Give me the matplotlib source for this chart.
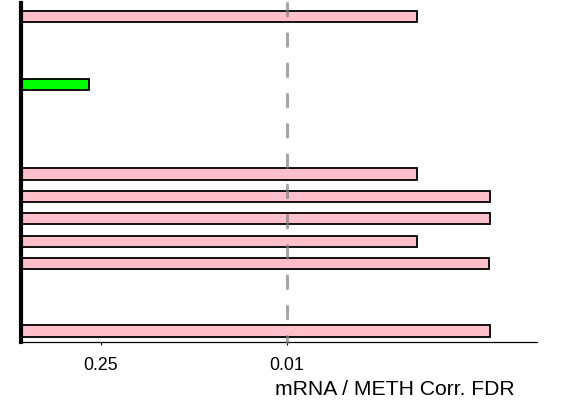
import numpy as np
import matplotlib
matplotlib.use('agg')
import matplotlib.pyplot as plt

plt.rcParams['font.family'] = ['Liberation Sans', 'DejaVu Sans']
plt.rcParams['lines.scale_dashes'] = False

# one row per gene / probe, top to bottom; None = no bar
fdr = [0.00105, None, None, 0.305, None, None, None,
       0.00105, 0.000295, 0.000295, 0.00105, 0.0003, None, None, 0.000295]
colors = ['pink', 'pink', 'pink', 'lime', 'pink', 'pink', 'pink',
          'pink', 'pink', 'pink', 'pink', 'pink', 'pink', 'pink', 'pink']
tick_fdr = [0.25, 0.01]
tick_labels = ['0.25', '0.01']
cutoff = 0.01


def main():
    fig = plt.figure(figsize=(5.63, 4.04), dpi=100)
    ax = fig.add_axes([21 / 563, 1 - 342.3 / 404, (536.7 - 21) / 563, (342.3 - 3.3) / 404])

    rows = np.arange(len(fdr))
    score = np.array([0 if f is None else -np.log10(f) for f in fdr])
    keep = score > 0
    ax.barh(rows[keep], score[keep], height=0.5,
            color=[c for c, k in zip(colors, keep) if k],
            edgecolor='black', linewidth=1.3, zorder=2)

    # significance cutoff, dashes start at the top
    ax.plot([-np.log10(cutoff)] * 2, [1, 0], transform=ax.get_xaxis_transform(),
            color='gray', alpha=0.7, lw=2.2, dashes=(9, 12.8),
            dash_capstyle='round', zorder=3, clip_on=False)

    ax.set_xlim(0, score.max() * 1.1)
    ax.set_ylim(14.5, -0.6)

    ax.set_xticks(-np.log10(tick_fdr))
    ax.set_xticklabels(tick_labels, fontsize=12.8)
    ax.tick_params(axis='x', length=2.5, width=0.8, pad=8)
    ax.set_yticks([])

    for s in ['top', 'right']:
        ax.spines[s].set_visible(False)
    ax.spines['left'].set_linewidth(3)
    ax.spines['left'].set_capstyle('projecting')
    ax.spines['bottom'].set_linewidth(0.9)

    ax.set_xlabel('mRNA / METH Corr. FDR', fontsize=15.2, ha='left', va='top')
    ax.xaxis.set_label_coords((275 - 21) / 515.7, -(380 - 342.3) / 339)

    fig.savefig('out.png', dpi=100)


if __name__ == '__main__':
    main()
